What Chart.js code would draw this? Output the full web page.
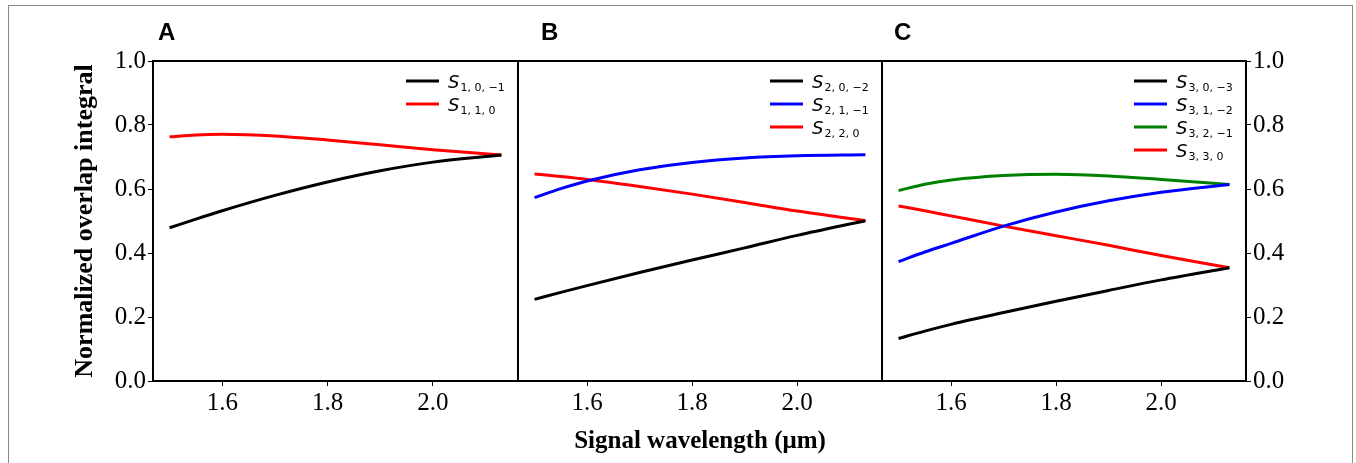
<!DOCTYPE html>
<html>
<head>
<meta charset="utf-8">
<script src="https://cdn.jsdelivr.net/npm/chart.js@4.4.0/dist/chart.umd.min.js"></script>
<style>
  html, body { margin: 0; padding: 0; background: #fff; }
  body { width: 1356px; height: 463px; position: relative; overflow: hidden; }
  .frame { position: absolute; left: 8px; top: 5px; width: 1345px; height: 470px;
           border: 1px solid #8a8a8a; box-sizing: border-box; }
  canvas { position: absolute; top: 0; }
  .letter { position: absolute; top: 20px; font: bold 24px "Liberation Sans", Arial, sans-serif;
            line-height: 24px; color: #000; }
</style>
</head>
<body>
<div class="frame"></div>
<canvas id="chartA" width="530" height="463" style="left:0px"></canvas>
<canvas id="chartB" width="388" height="463" style="left:506px"></canvas>
<canvas id="chartC" width="486" height="463" style="left:870px"></canvas>
<div class="letter" style="left:158px">A</div>
<div class="letter" style="left:541px">B</div>
<div class="letter" style="left:894px">C</div>

<script>
// signal wavelength (µm)
const wavelength = [1.50, 1.55, 1.60, 1.70, 1.80, 1.90, 2.00, 2.13];
const xTicks = [1.6, 1.8, 2.0];
const yTicks = [0.0, 0.2, 0.4, 0.6, 0.8, 1.0];

// panel A
const s1_0_m1 = [0.479, 0.506, 0.532, 0.580, 0.622, 0.657, 0.684, 0.706];
const s1_1_0  = [0.763, 0.769, 0.771, 0.766, 0.753, 0.738, 0.723, 0.706];
// panel B
const s2_0_m2 = [0.255, 0.277, 0.298, 0.339, 0.378, 0.416, 0.455, 0.501];
const s2_1_m1 = [0.573, 0.601, 0.625, 0.660, 0.683, 0.697, 0.704, 0.707];
const s2_2_0  = [0.647, 0.639, 0.630, 0.608, 0.584, 0.558, 0.531, 0.501];
// panel C
const s3_0_m3 = [0.133, 0.156, 0.177, 0.214, 0.249, 0.283, 0.316, 0.354];
const s3_1_m2 = [0.373, 0.403, 0.430, 0.484, 0.528, 0.563, 0.590, 0.614];
const s3_2_m1 = [0.595, 0.615, 0.628, 0.642, 0.646, 0.641, 0.630, 0.614];
const s3_3_0  = [0.547, 0.532, 0.516, 0.484, 0.454, 0.424, 0.392, 0.354];

const xMin = 1.4685, xMax = 2.1615;
const serif = '"Liberation Serif", "Times New Roman", serif';

function series(label, values, color) {
    return {
        label: label,
        data: values.map((v, i) => ({ x: wavelength[i], y: v })),
        borderColor: color,
        borderWidth: 3,
        pointRadius: 0,
        fill: false,
        cubicInterpolationMode: 'monotone'
    };
}

// frame around the plot area + legend with subscripts
const framePlugin = {
    id: 'frame',
    afterDraw(chart) {
        const { ctx, chartArea: a } = chart;
        ctx.save();
        ctx.strokeStyle = '#000';
        ctx.lineWidth = 2;
        ctx.strokeRect(a.left, a.top, a.right - a.left, a.bottom - a.top);

        chart.data.datasets.forEach((ds, i) => {
            const y = a.top + 20 + i * 23;
            const x0 = a.right - 112;
            ctx.strokeStyle = ds.borderColor;
            ctx.lineWidth = 3;
            ctx.beginPath();
            ctx.moveTo(x0, y);
            ctx.lineTo(x0 + 33, y);
            ctx.stroke();
            ctx.fillStyle = '#000';
            ctx.textBaseline = 'alphabetic';
            ctx.textAlign = 'left';
            ctx.font = 'italic 18px "DejaVu Sans"';
            ctx.fillText('S', x0 + 42, y + 7);
            const w = ctx.measureText('S').width;
            ctx.font = '11px "DejaVu Sans"';
            ctx.fillText(ds.label, x0 + 42 + w + 1, y + 10);
        });
        ctx.restore();
    }
};

function xScale(withTitle) {
    return {
        type: 'linear',
        min: xMin,
        max: xMax,
        afterBuildTicks: s => { s.ticks = xTicks.map(v => ({ value: v })); },
        afterFit: s => { s.height = 82; },
        grid: { drawOnChartArea: false, drawTicks: true, tickLength: 5, color: '#000', lineWidth: 1 },
        border: { display: false },
        ticks: {
            color: '#000',
            padding: 2,
            maxRotation: 0,
            font: { family: serif, size: 25 },
            callback: v => v.toFixed(1)
        },
        title: {
            display: withTitle,
            text: 'Signal wavelength (\u03bcm)',
            color: '#000',
            font: { family: serif, size: 25, weight: 'bold' },
            padding: { top: 0, bottom: 6 }
        }
    };
}

function yScale(pos, width, show, title) {
    return {
        type: 'linear',
        position: pos,
        display: show,
        min: 0,
        max: 1,
        afterBuildTicks: s => { s.ticks = yTicks.map(v => ({ value: v })); },
        afterFit: s => { s.width = width; },
        grid: { drawOnChartArea: false, drawTicks: true, tickLength: 5, color: '#000', lineWidth: 1 },
        border: { display: false },
        ticks: {
            color: '#000',
            padding: 2,
            font: { family: serif, size: 25 },
            callback: v => v.toFixed(1)
        },
        title: {
            display: !!title,
            text: title || '',
            color: '#000',
            font: { family: serif, size: 26, weight: 'bold' },
            padding: { top: 70, bottom: 0 }
        }
    };
}

function makeChart(id, datasets, padding, x, y) {
    return new Chart(document.getElementById(id), {
        type: 'line',
        data: { datasets: datasets },
        options: {
            responsive: false,
            animation: false,
            devicePixelRatio: 1,
            layout: { padding: padding },
            plugins: { legend: { display: false }, tooltip: { enabled: false } },
            scales: { x: x, y: y }
        },
        plugins: [framePlugin]
    });
}

makeChart('chartA', [
    series('1, 0, \u22121', s1_0_m1, '#000000'),
    series('1, 1, 0', s1_1_0, '#ff0000')
], { top: 61, right: 12, left: 0, bottom: 0 }, xScale(false),
   yScale('left', 153, true, 'Normalized overlap integral'));

makeChart('chartB', [
    series('2, 0, \u22122', s2_0_m2, '#000000'),
    series('2, 1, \u22121', s2_1_m1, '#0000ff'),
    series('2, 2, 0', s2_2_0, '#ff0000')
], { top: 61, right: 12, left: 12, bottom: 0 }, xScale(true),
   yScale('left', 0, false, null));

makeChart('chartC', [
    series('3, 0, \u22123', s3_0_m3, '#000000'),
    series('3, 1, \u22122', s3_1_m2, '#0000ff'),
    series('3, 2, \u22121', s3_2_m1, '#008000'),
    series('3, 3, 0', s3_3_0, '#ff0000')
], { top: 61, right: 0, left: 12, bottom: 0 }, xScale(false),
   yScale('right', 110, true, null));
</script>
</body>
</html>
